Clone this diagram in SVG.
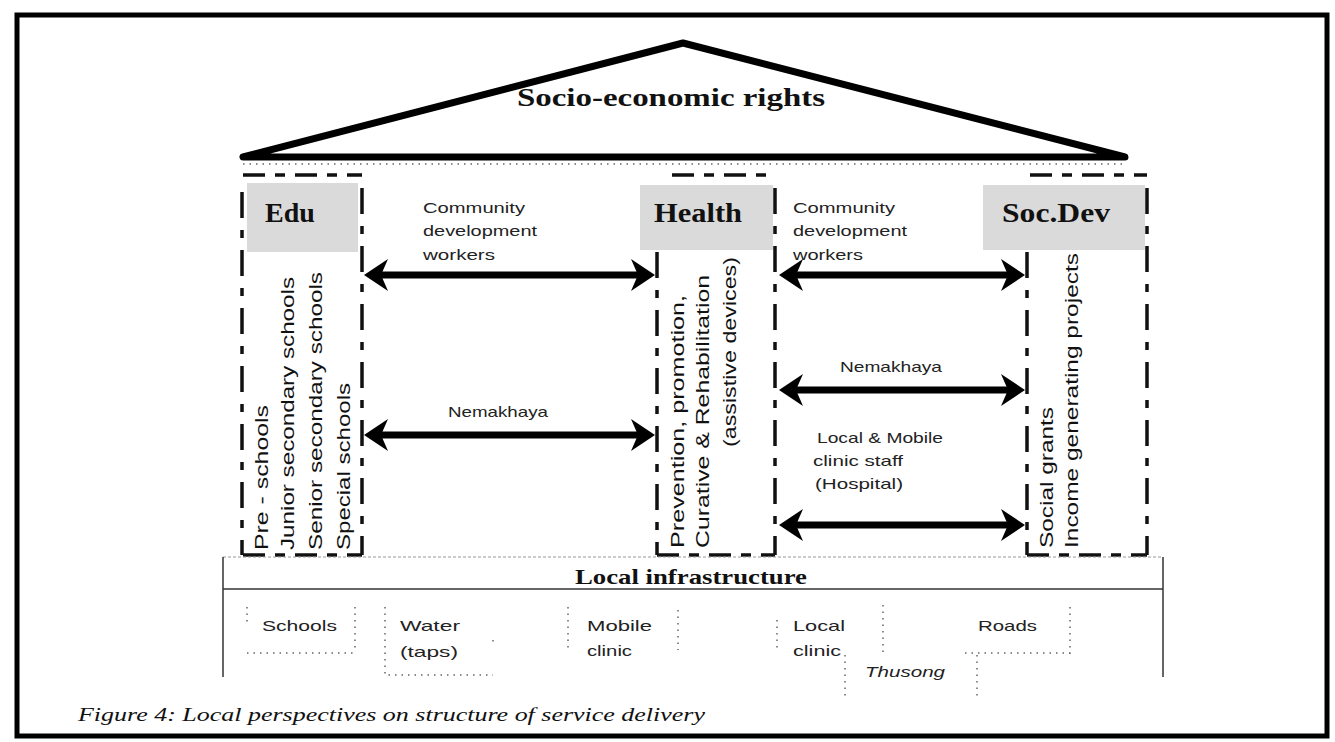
<svg xmlns="http://www.w3.org/2000/svg" width="1335" height="742" viewBox="0 0 1335 742">
<style>
  .hd{font-family:"Liberation Serif",serif;font-weight:bold;fill:#111}
  .lbl{font-family:"Liberation Sans",sans-serif;font-size:15px;fill:#222}
  .vt{font-family:"Liberation Sans",sans-serif;font-size:18px;fill:#111}
  .inf{font-family:"Liberation Sans",sans-serif;font-size:15px;fill:#222}
  .col{fill:none;stroke:#111;stroke-width:3.5;stroke-dasharray:26 12 8 12}
  .top{stroke:#111;stroke-width:3.5;stroke-dasharray:22 10 10 10}
  .gray{fill:#dadada}
  .dot{fill:none;stroke:#666;stroke-width:1.5;stroke-dasharray:1.5 5}
  .arr{stroke:#000;stroke-width:7;fill:none;marker-start:url(#ah);marker-end:url(#ah)}
</style>
<defs>
  <marker id="ah" viewBox="0 0 24 32" refX="15" refY="16" markerWidth="24" markerHeight="32" markerUnits="userSpaceOnUse" orient="auto-start-reverse">
    <path d="M0,0 L24,16 L0,32 L7,16 z" fill="#000"/>
  </marker>
</defs>
<rect x="0" y="0" width="1335" height="742" fill="#fff"/>
<rect x="17" y="15" width="1310" height="721" fill="none" stroke="#000" stroke-width="5"/>

<g id="roof">
  <polygon points="683,43 243,157 1125,157" fill="none" stroke="#000" stroke-width="7" stroke-linejoin="round"/>
  <line x1="243" y1="164" x2="1125" y2="164" class="dot"/>
  <text class="hd" x="671" y="106" font-size="26" text-anchor="middle" textLength="308" lengthAdjust="spacingAndGlyphs">Socio-economic rights</text>
</g>

<g id="edu">
  <rect class="gray" x="247" y="183" width="111" height="69"/>
  <line class="top" x1="243" y1="175" x2="362" y2="175"/>
  <line class="col" x1="242" y1="192" x2="242" y2="555"/>
  <line class="col" x1="362" y1="188" x2="362" y2="555"/>
  <line class="top" x1="243" y1="555" x2="362" y2="555"/>
  <text class="hd" x="290" y="222" font-size="28" text-anchor="middle">Edu</text>
  <text class="vt" transform="translate(268,550) rotate(-90)" textLength="145" lengthAdjust="spacingAndGlyphs">Pre - schools</text>
  <text class="vt" transform="translate(294,550) rotate(-90)" textLength="273" lengthAdjust="spacingAndGlyphs">Junior secondary schools</text>
  <text class="vt" transform="translate(322,550) rotate(-90)" textLength="278" lengthAdjust="spacingAndGlyphs">Senior secondary schools</text>
  <text class="vt" transform="translate(350,550) rotate(-90)" textLength="167" lengthAdjust="spacingAndGlyphs">Special schools</text>
</g>

<g id="health">
  <rect class="gray" x="640" y="185" width="133" height="65"/>
  <line class="top" x1="672" y1="175" x2="775" y2="175"/>
  <line class="col" x1="657" y1="252" x2="657" y2="555"/>
  <line class="col" x1="775" y1="188" x2="775" y2="555"/>
  <line class="top" x1="657" y1="555" x2="775" y2="555"/>
  <text class="hd" x="698" y="222" font-size="28" text-anchor="middle" textLength="88" lengthAdjust="spacingAndGlyphs">Health</text>
  <text class="vt" transform="translate(684,548) rotate(-90)" textLength="253" lengthAdjust="spacingAndGlyphs">Prevention, promotion,</text>
  <text class="vt" transform="translate(709,548) rotate(-90)" textLength="273" lengthAdjust="spacingAndGlyphs">Curative &amp; Rehabilitation</text>
  <text class="vt" transform="translate(736,447) rotate(-90)" textLength="190" lengthAdjust="spacingAndGlyphs">(assistive devices)</text>
</g>

<g id="socdev">
  <rect class="gray" x="983" y="185" width="162" height="65"/>
  <line class="top" x1="1030" y1="175" x2="1147" y2="175"/>
  <line class="col" x1="1027" y1="252" x2="1027" y2="555"/>
  <line class="col" x1="1147" y1="188" x2="1147" y2="555"/>
  <line class="top" x1="1027" y1="555" x2="1147" y2="555"/>
  <text class="hd" x="1056" y="222" font-size="28" text-anchor="middle" textLength="108" lengthAdjust="spacingAndGlyphs">Soc.Dev</text>
  <text class="vt" transform="translate(1053,548) rotate(-90)" textLength="141" lengthAdjust="spacingAndGlyphs">Social grants</text>
  <text class="vt" transform="translate(1078,548) rotate(-90)" textLength="295" lengthAdjust="spacingAndGlyphs">Income generating projects</text>
</g>

<g id="connectors">
  <line class="arr" x1="373" y1="275" x2="646" y2="275"/>
  <line class="arr" x1="373" y1="435" x2="646" y2="435"/>
  <line class="arr" x1="788" y1="275" x2="1016" y2="275"/>
  <line class="arr" x1="788" y1="390" x2="1016" y2="390"/>
  <line class="arr" x1="788" y1="525" x2="1016" y2="525"/>
</g>

<g id="labels">
  <text class="lbl" x="423" y="213" textLength="102" lengthAdjust="spacingAndGlyphs">Community</text>
  <text class="lbl" x="423" y="236" textLength="114" lengthAdjust="spacingAndGlyphs">development</text>
  <text class="lbl" x="423" y="260" textLength="72" lengthAdjust="spacingAndGlyphs">workers</text>
  <text class="lbl" x="448" y="417" textLength="100" lengthAdjust="spacingAndGlyphs">Nemakhaya</text>
  <text class="lbl" x="793" y="213" textLength="102" lengthAdjust="spacingAndGlyphs">Community</text>
  <text class="lbl" x="793" y="236" textLength="114" lengthAdjust="spacingAndGlyphs">development</text>
  <text class="lbl" x="793" y="260" textLength="70" lengthAdjust="spacingAndGlyphs">workers</text>
  <text class="lbl" x="840" y="372" textLength="102" lengthAdjust="spacingAndGlyphs">Nemakhaya</text>
  <text class="lbl" x="817" y="443" textLength="126" lengthAdjust="spacingAndGlyphs">Local &amp; Mobile</text>
  <text class="lbl" x="813" y="466" textLength="90" lengthAdjust="spacingAndGlyphs">clinic staff</text>
  <text class="lbl" x="815" y="489" textLength="88" lengthAdjust="spacingAndGlyphs">(Hospital)</text>
</g>

<g id="infrastructure">
  <line x1="223" y1="557" x2="1163" y2="557" stroke="#999" stroke-width="1" stroke-dasharray="3 2"/>
  <line x1="223" y1="557" x2="223" y2="677" stroke="#333" stroke-width="1.5"/>
  <line x1="1163" y1="557" x2="1163" y2="677" stroke="#333" stroke-width="1.5"/>
  <line x1="223" y1="589" x2="1163" y2="589" stroke="#333" stroke-width="1.5"/>
  <text class="hd" x="691" y="584" font-size="21" text-anchor="middle" textLength="232" lengthAdjust="spacingAndGlyphs">Local infrastructure</text>
</g>

<g id="schools">
  <path class="dot" d="M247,607 V623 M355,607 V652 M247,653 H355"/>
  <text class="inf" x="262" y="631" textLength="75" lengthAdjust="spacingAndGlyphs">Schools</text>
</g>
<g id="water">
  <path class="dot" d="M385,607 V675 H493 M493,640 V642"/>
  <text class="inf" x="400" y="631" textLength="60" lengthAdjust="spacingAndGlyphs">Water</text>
  <text class="inf" x="400" y="657" textLength="58" lengthAdjust="spacingAndGlyphs">(taps)</text>
</g>
<g id="mobile-clinic">
  <path class="dot" d="M568,607 V650 M678,610 V650"/>
  <text class="inf" x="587" y="631" textLength="65" lengthAdjust="spacingAndGlyphs">Mobile</text>
  <text class="inf" x="587" y="656" textLength="45" lengthAdjust="spacingAndGlyphs">clinic</text>
</g>
<g id="local-clinic">
  <path class="dot" d="M777,620 V650 M883,605 V655 M845,655 V700"/>
  <text class="inf" x="793" y="631" textLength="52" lengthAdjust="spacingAndGlyphs">Local</text>
  <text class="inf" x="793" y="656" textLength="48" lengthAdjust="spacingAndGlyphs">clinic</text>
</g>
<g id="thusong">
  <text class="inf" x="865" y="677" font-style="italic" textLength="80" lengthAdjust="spacingAndGlyphs">Thusong</text>
</g>
<g id="roads">
  <path class="dot" d="M1070,607 V655 M965,653 H1070 M977,655 V700"/>
  <text class="inf" x="978" y="631" textLength="59" lengthAdjust="spacingAndGlyphs">Roads</text>
</g>

<text x="78" y="721" font-family="Liberation Serif, serif" font-style="italic" font-size="18" fill="#111" textLength="627" lengthAdjust="spacingAndGlyphs">Figure 4: Local perspectives on structure of service delivery</text>
</svg>
